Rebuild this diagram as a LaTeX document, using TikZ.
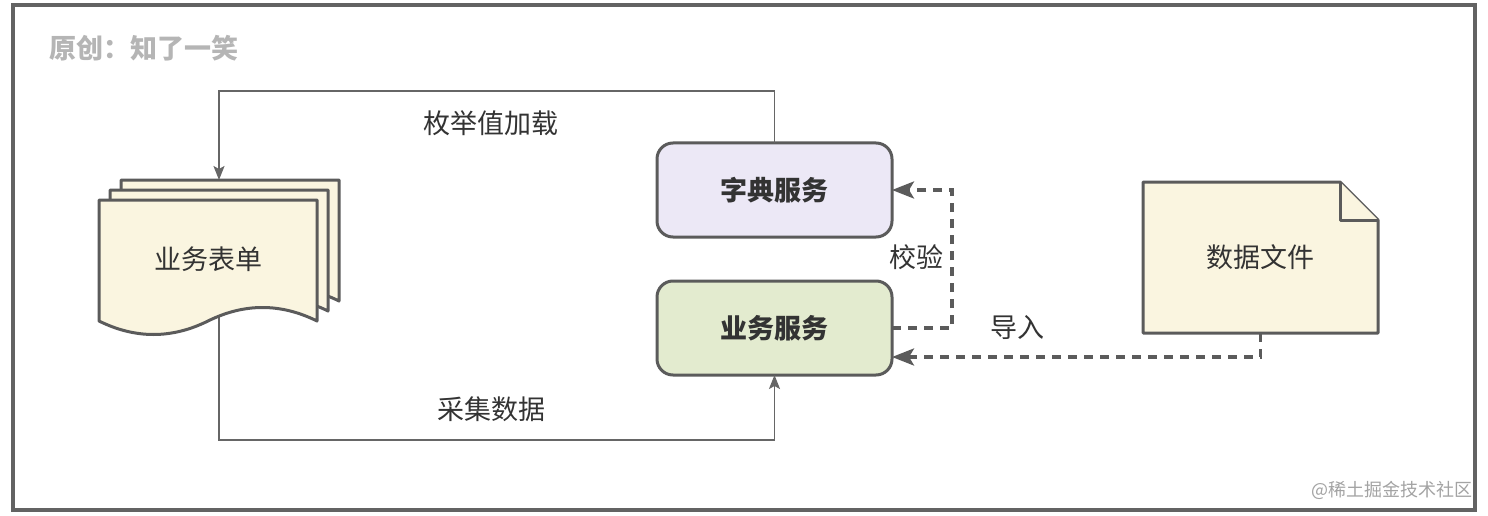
\documentclass[tikz,border=0pt]{standalone}
\usepackage{fontspec}
\setmainfont{Noto Sans CJK SC}
\usetikzlibrary{arrows.meta,calc}
\definecolor{stroke}{HTML}{5B5B5B}
\definecolor{frame}{HTML}{636363}
\definecolor{conn}{HTML}{666666}
\definecolor{dictfill}{HTML}{ECE8F6}
\definecolor{bizfill}{HTML}{E3EBCF}
\definecolor{cream}{HTML}{FAF5E0}
\definecolor{txt}{HTML}{333333}
\definecolor{wm}{HTML}{A3A3A3}
\definecolor{hdr}{HTML}{B5B5B5}
\newcommand\formpage[1]{%
  \begin{scope}[shift={#1}]
    \filldraw[page] (99,200) -- (317,200) -- (317,321)
      .. controls (280.67,303) and (244.33,303) .. (208,321)
      .. controls (171.67,339) and (135.33,339) .. (99,321) -- cycle;
  \end{scope}}
\begin{document}
\begin{tikzpicture}[x=1pt,y=-1pt,
  svc/.style={draw=stroke, line width=3pt, rounded corners=16pt,
    minimum width=235pt, minimum height=94pt, inner sep=0pt, outer sep=0pt,
    font=\fontsize{27}{27}\selectfont\bfseries, text=txt},
  ghost/.style={inner sep=0pt, outer sep=0pt},
  page/.style={draw=stroke, fill=cream, line width=3pt, line join=round},
  lbl/.style={font=\fontsize{27}{27}\selectfont, text=txt, inner sep=0pt},
  arr/.style={draw=conn, line width=1.5pt,
    -{Stealth[length=14pt,width=11pt,inset=3pt]}},
  darr/.style={draw=stroke, line width=3.5pt, dash pattern=on 9pt off 7pt,
    -{Stealth[length=22pt,width=17pt,inset=5pt]}}]
\fill[white] (0,0) rectangle (1488,516);
\useasboundingbox (0,0) rectangle (1488,516);
\draw[frame, line width=3.5pt] (13,5) rectangle (1475,510);
\node[font=\fontsize{27}{27}\selectfont\bfseries, text=hdr, anchor=west, inner sep=0pt] (hdr) at (49,48) {原创：知了一笑};
\node[font=\fontsize{18}{18}\selectfont, text=wm, anchor=east, inner sep=0pt] (wm) at (1473,490) {@稀土掘金技术社区};
% ghost nodes
\node[ghost, minimum width=240pt, minimum height=155pt] (form) at (219,257.5) {};
\node[ghost, minimum width=235pt, minimum height=151pt] (note) at (1260.5,257.5) {};
% service boxes
\node[svc, fill=dictfill] (dict) at (774.5,190) {字典服务};
\node[svc, fill=bizfill] (biz) at (774.5,328) {业务服务};
% connectors
\coordinate (topc) at (219,91);
\coordinate (botc) at (219,440);
\coordinate (chk) at (952,328);
\coordinate (imp) at (1260.5,357);
\draw[arr] (dict.north) |- (topc) -- (form.north);
\draw[arr] (form.center) -- (botc) -| (biz.south);
\draw[darr] (biz.east) -- (chk) |- (dict.east);
\draw[darr] (note.south) -- (imp) -- (imp -| biz.east);
% multi-document
\formpage{(22,-20)}
\formpage{(11,-10)}
\formpage{(0,0)}
% note shape
\filldraw[page] (note.north west) -- ($(note.north east)+(-38,0)$) -- ($(note.north east)+(0,38)$) -- (note.south east) -- (note.south west) -- cycle;
\filldraw[page] ($(note.north east)+(-38,0)$) -- ($(note.north east)+(-38,38)$) -- ($(note.north east)+(0,38)$);
% labels
\node[lbl] (formtxt) at (208,259) {业务表单};
\node[lbl] (notetxt) at (1260.5,257.5) {数据文件};
\node[lbl] (lload) at (491,123) {枚举值加载};
\node[lbl] (lcollect) at (491,409) {采集数据};
\node[lbl] (lcheck) at (916,257) {校验};
\node[lbl] (limport) at (1017,327) {导入};
\end{tikzpicture}
\end{document}
